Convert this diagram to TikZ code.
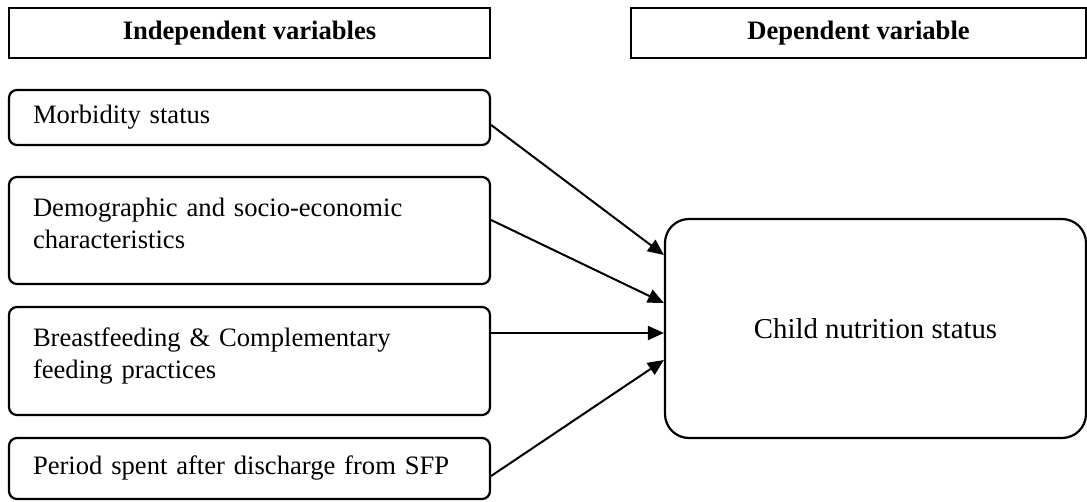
\documentclass[tikz,border=0pt]{standalone}
\usepackage{fontspec}
\setmainfont{Liberation Serif}
\usetikzlibrary{arrows.meta}

\begin{document}
\begin{tikzpicture}[
    x=0.5pt, y=-0.5pt,
    header/.style={
        rectangle,
        draw,
        line width=0.7pt,
        minimum height=25pt,
        inner sep=0pt,
        font=\fontsize{13.3}{16}\selectfont\bfseries
        },
    varbox/.style={
        rectangle,
        rounded corners=4pt,
        draw,
        line width=1.1pt,
        text width=216.5pt,
        align=left,
        inner xsep=12pt,
        inner ysep=0pt,
        font=\fontsize{13.3}{16}\selectfont
        },
    outcome/.style={
        rectangle,
        rounded corners=12pt,
        draw,
        line width=1.1pt,
        minimum width=210.5pt,
        minimum height=109.5pt,
        font=\fontsize{14.4}{17}\selectfont
        },
    ArrowV/.style={
        line width=1pt,
        -{Triangle[length=8pt,width=7pt]}
        },
    ]

    \useasboundingbox (0,0) rectangle (1087,502);

    \node [header, minimum width=240.5pt] (indep) at (249.5,33) {Independent variables};
    \node [header, minimum width=227.5pt] (dep) at (858.5,33) {Dependent variable};

    \node [varbox, minimum height=27.5pt] (morb) at (249.5,117.5) {Morbidity status};
    \node [varbox, minimum height=53.5pt, text depth=23pt] (demo) at (249.5,230.5) {Demographic and socio-economic\\ characteristics};
    \node [varbox, minimum height=54pt, text depth=24pt] (breast) at (249.5,361) {Breastfeeding \& Complementary\\ feeding practices};
    \node [varbox, minimum height=30.5pt] (period) at (249.5,468.5) {Period spent after discharge from SFP};

    \node [outcome] (child) at (875.5,328.5) {Child nutrition status};

    \draw [ArrowV] ([yshift=-3.75pt]morb.east) -- ([yshift=36.75pt]child.west);
    \draw [ArrowV] ([yshift=5.25pt]demo.east) -- ([yshift=12.75pt]child.west);
    \draw [ArrowV] ([yshift=-2.25pt]breast.east |- child.west) -- ([yshift=-2.25pt]child.west);
    \draw [ArrowV] ([yshift=-3.75pt]period.east) -- ([yshift=-15.75pt]child.west);

\end{tikzpicture}
\end{document}
